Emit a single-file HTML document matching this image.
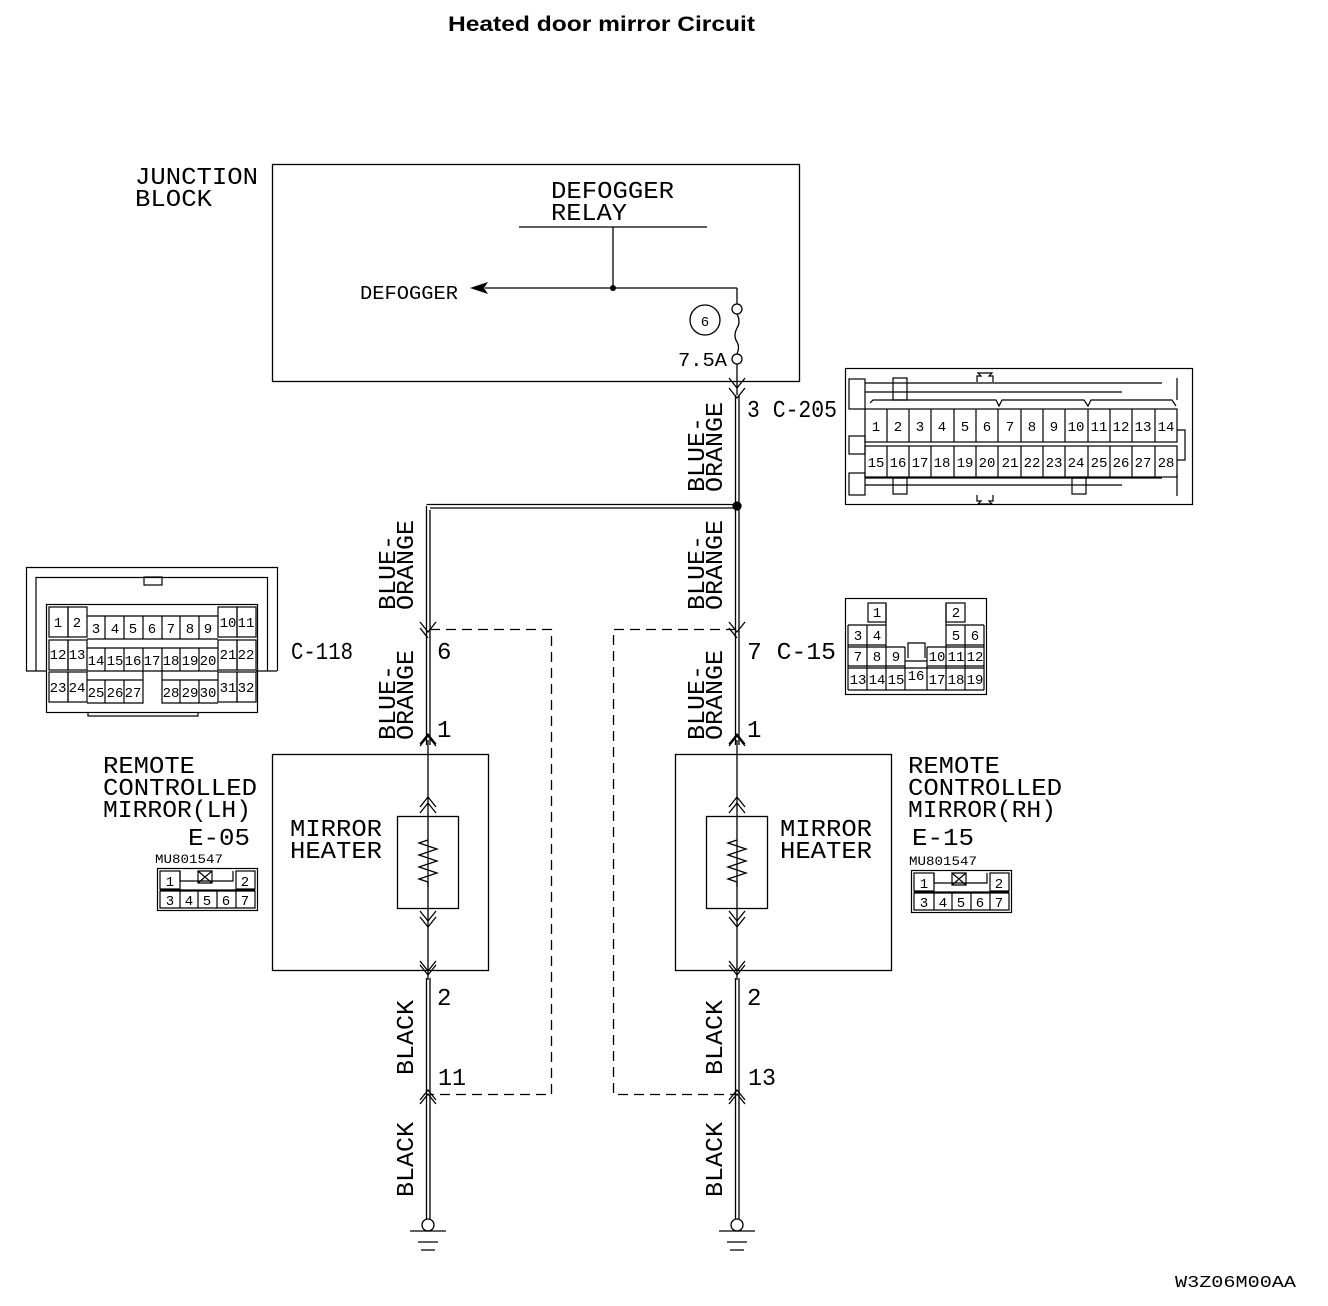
<!DOCTYPE html>
<html><head><meta charset="utf-8"><style>
html,body{margin:0;padding:0;background:#fff}
svg{display:block}
text{font-family:"Liberation Mono",monospace;fill:#000}
.t{font-size:24px}
.s{font-size:14px}
.m{font-size:19px}
</style></head><body>
<svg width="1328" height="1306" viewBox="0 0 1328 1306" xmlns="http://www.w3.org/2000/svg">
<g fill="none" stroke="#000" stroke-width="1.3">
<!-- junction block -->
<rect x="272.5" y="164.5" width="527" height="217"/>
<line x1="519" y1="227" x2="707" y2="227"/>
<line x1="613" y1="227" x2="613" y2="288"/>
<line x1="485" y1="288" x2="737" y2="288"/>
<line x1="737" y1="288" x2="737" y2="304"/>
<circle cx="737" cy="309" r="5"/>
<path d="M737 314 q4 8 0 14 q-4 8 0 14 q3 5 0 12"/>
<circle cx="737" cy="359" r="5"/>
<circle cx="705" cy="320" r="15"/>
<line x1="737" y1="364" x2="737" y2="395"/>
<path d="M729 378 l8 10 l8 -10 M729 388 l8 10 l8 -10"/>
<!-- double wires -->
<line x1="735.5" y1="395" x2="735.5" y2="745"/>
<line x1="739" y1="395" x2="739" y2="745"/>
<line x1="735.5" y1="978" x2="735.5" y2="1220"/>
<line x1="739" y1="978" x2="739" y2="1220"/>
<line x1="426.5" y1="506" x2="426.5" y2="745"/>
<line x1="430" y1="510" x2="430" y2="745"/>
<line x1="426.5" y1="978" x2="426.5" y2="1220"/>
<line x1="430" y1="978" x2="430" y2="1220"/>
<line x1="426.5" y1="504.5" x2="737" y2="504.5"/>
<line x1="430" y1="508" x2="737" y2="508"/>
<!-- dashed boxes -->
<path d="M430 629.5 H551.5 V1094.5 H430" stroke-dasharray="10,6"/>
<path d="M736 629.5 H613.5 V1094.5 H736" stroke-dasharray="10,6"/>
<!-- mirror boxes -->
<rect x="272.5" y="754.5" width="216" height="216"/>
<rect x="675.5" y="754.5" width="216" height="216"/>
<rect x="397.5" y="816.5" width="61" height="92"/>
<rect x="706.5" y="816.5" width="61" height="92"/>
<line x1="428" y1="740" x2="428" y2="980"/>
<line x1="737" y1="740" x2="737" y2="980"/>
<path d="M428 840 l-9 3 l18 6 l-18 6 l18 6 l-18 6 l18 6 l-18 6 l9 3 v5"/>
<path d="M737 840 l-9 3 l18 6 l-18 6 l18 6 l-18 6 l18 6 l-18 6 l9 3 v5"/>
<!-- chevrons -->
<g id="chev">
<path d="M420 622 l8 10 l8 -10 M420 628 l8 10"/>
<path d="M420 746 l8 -10 l8 10 M420 744 l8 -10 l8 10"/>
<path d="M420 807 l8 -10 l8 10 M420 813 l8 -10 l8 10"/>
<path d="M420 911 l8 10 l8 -10 M420 917 l8 10 l8 -10"/>
<path d="M420 961 l8 10 l8 -10 M420 965 l8 10 l8 -10"/>
<path d="M420 1100 l8 -10 l8 10 M420 1104 l8 -10 l8 10"/>
</g>
<use href="#chev" x="309"/>
<circle cx="737" cy="506" r="4" fill="#000"/>
<!-- grounds -->
<circle cx="428" cy="1225" r="6" fill="#fff"/>
<path d="M410 1231 H446 M418 1242 H438 M421 1250 H435"/>
<circle cx="737" cy="1225" r="6" fill="#fff"/>
<path d="M719 1231 H755 M727 1242 H747 M730 1250 H744"/>
</g>
<circle cx="613" cy="288" r="3"/>
<path d="M470 288 l18 -6 l-4 6 l4 6z" fill="#000"/>

<!-- C-205 -->
<g fill="none" stroke="#000" stroke-width="1.2">
<rect x="845.5" y="368.5" width="347" height="136"/>
<rect x="849" y="379" width="16" height="30"/><rect x="849" y="436" width="16" height="18"/><rect x="849" y="473" width="16" height="22"/>
<rect x="893" y="378" width="14" height="22"/><rect x="893" y="478" width="14" height="16"/><rect x="1072" y="478" width="14" height="16"/>
<path d="M865 383 H1162 M865 392 H1122 M865 478 H1162 M865 485 H1122 M870 403 l3 -3 H996 l3 6 l3 -6 H1084 l4 6 l3 -6 H1172 l4 6"/>
<path d="M977 382 v-6 h4 l-3 -3 h14 l-3 3 h4 v6 M977 495 v6 h4 l-3 3 h14 l-3 -3 h4 v-6"/>
<path d="M1177 378 v22 M1177 474 v22 M1177 430 h8 v30 h-8"/>
<rect x="865" y="409" width="312" height="33"/>
<rect x="865" y="446" width="312" height="31"/>
<path d="M887 409v33M909 409v33M931 409v33M954 409v33M976 409v33M998 409v33M1021 409v33M1043 409v33M1065 409v33M1088 409v33M1110 409v33M1132 409v33M1155 409v33"/>
<path d="M887 446v31M909 446v31M931 446v31M954 446v31M976 446v31M998 446v31M1021 446v31M1043 446v31M1065 446v31M1088 446v31M1110 446v31M1132 446v31M1155 446v31"/>
</g>
<g class="s" text-anchor="middle">
<text x="876" y="431">1</text><text x="898" y="431">2</text><text x="920" y="431">3</text><text x="942" y="431">4</text><text x="965" y="431">5</text><text x="987" y="431">6</text><text x="1010" y="431">7</text><text x="1032" y="431">8</text><text x="1054" y="431">9</text><text x="1076" y="431">10</text><text x="1099" y="431">11</text><text x="1121" y="431">12</text><text x="1143" y="431">13</text><text x="1166" y="431">14</text>
<text x="876" y="467">15</text><text x="898" y="467">16</text><text x="920" y="467">17</text><text x="942" y="467">18</text><text x="965" y="467">19</text><text x="987" y="467">20</text><text x="1010" y="467">21</text><text x="1032" y="467">22</text><text x="1054" y="467">23</text><text x="1076" y="467">24</text><text x="1099" y="467">25</text><text x="1121" y="467">26</text><text x="1143" y="467">27</text><text x="1166" y="467">28</text>
</g>

<!-- C-118 -->
<g fill="none" stroke="#000" stroke-width="1.2">
<path d="M26.5 671 V567.5 H277.5 V671 M256 671 H277 M26 671 H47 M36 671 V577.5 H267.5 V671"/>
<rect x="144" y="577" width="18" height="8"/>
<rect x="46.5" y="604.5" width="211" height="108"/>
<path d="M88 713 v3 h110 v-3"/>
<rect x="49" y="607" width="19" height="30"/><rect x="68" y="607" width="19" height="30"/>
<rect x="218" y="607" width="19" height="30"/><rect x="237" y="607" width="19" height="30"/>
<rect x="49" y="640" width="19" height="30"/><rect x="68" y="640" width="19" height="30"/>
<rect x="218" y="640" width="19" height="30"/><rect x="237" y="640" width="19" height="30"/>
<rect x="49" y="672" width="19" height="30"/><rect x="68" y="672" width="19" height="30"/>
<rect x="218" y="672" width="19" height="30"/><rect x="237" y="672" width="19" height="30"/>
<path d="M87 616 H218 M87 639 H218 M87 648 H218 M87 671 H218 M87 680 H143 M87 703 H143 V671 M162 671 V703 H218 M162 680 H218"/>
<path d="M105 616v23M124 616v23M143 616v23M162 616v23M180 616v23M199 616v23"/>
<path d="M105 648v23M124 648v23M143 648v23M162 648v23M180 648v23M199 648v23"/>
<path d="M105 680v23M124 680v23M180 680v23M199 680v23"/>
</g>
<g class="s" text-anchor="middle">
<text x="58" y="627">1</text><text x="77" y="627">2</text><text x="96" y="633">3</text><text x="115" y="633">4</text><text x="133" y="633">5</text><text x="152" y="633">6</text><text x="171" y="633">7</text><text x="190" y="633">8</text><text x="208" y="633">9</text><text x="228" y="627">10</text><text x="246" y="627">11</text>
<text x="58" y="659">12</text><text x="77" y="659">13</text><text x="96" y="665">14</text><text x="115" y="665">15</text><text x="133" y="665">16</text><text x="152" y="665">17</text><text x="171" y="665">18</text><text x="190" y="665">19</text><text x="208" y="665">20</text><text x="228" y="659">21</text><text x="246" y="659">22</text>
<text x="58" y="692">23</text><text x="77" y="692">24</text><text x="96" y="697">25</text><text x="115" y="697">26</text><text x="133" y="697">27</text><text x="171" y="697">28</text><text x="190" y="697">29</text><text x="208" y="697">30</text><text x="228" y="692">31</text><text x="246" y="692">32</text>
</g>

<!-- C-15 -->
<g fill="none" stroke="#000" stroke-width="1.2">
<rect x="845.5" y="598.5" width="141" height="96"/>
<rect x="868" y="603" width="18" height="19"/><rect x="946" y="603" width="19" height="19"/>
<path d="M848 625 H886 M946 625 H984 M848 645 H886 M946 645 H984 M848 647 H905 M927 647 H984 M848 666 H905 M927 666 H984 M848 668 H984 M848 690 H984"/>
<path d="M848 625V690M867 625V690M886 603V690M905 647V690M927 647V690M946 603V690M965 625V690M984 625V690"/>
<path d="M905 661 H927 M908 658 V643 H925 V658"/>
</g>
<g class="s" text-anchor="middle">
<text x="877" y="617">1</text><text x="956" y="617">2</text>
<text x="858" y="640">3</text><text x="877" y="640">4</text><text x="956" y="640">5</text><text x="975" y="640">6</text>
<text x="858" y="661">7</text><text x="877" y="661">8</text><text x="896" y="661">9</text><text x="937" y="661">10</text><text x="956" y="661">11</text><text x="975" y="661">12</text>
<text x="858" y="684">13</text><text x="877" y="684">14</text><text x="896" y="684">15</text><text x="916" y="680">16</text><text x="937" y="684">17</text><text x="956" y="684">18</text><text x="975" y="684">19</text>
</g>

<!-- small mirror connectors -->
<g fill="none" stroke="#000" stroke-width="1.2">
<rect x="157.5" y="868.5" width="100" height="42"/>
<rect x="160" y="871" width="20" height="18"/><rect x="236" y="871" width="19" height="18"/>
<path d="M180 871 v10 H233 V871 M198 871 h14 v12 h-14z M198 871 l14 12 M212 871 l-14 12 M160 890 H255 M160 891 H255 V908 H160z M180 891v17M198 891v17M217 891v17M236 891v17"/>
<rect x="911.5" y="870.5" width="100" height="42"/>
<rect x="914" y="873" width="20" height="18"/><rect x="990" y="873" width="19" height="18"/>
<path d="M934 873 v10 H987 V873 M952 873 h14 v12 h-14z M952 873 l14 12 M966 873 l-14 12 M914 892 H1009 M914 893 H1009 V910 H914z M934 893v17M952 893v17M971 893v17M990 893v17"/>
</g>
<g class="s" text-anchor="middle">
<text x="170" y="886">1</text><text x="245" y="886">2</text><text x="170" y="905">3</text><text x="189" y="905">4</text><text x="207" y="905">5</text><text x="226" y="905">6</text><text x="245" y="905">7</text>
<text x="924" y="888">1</text><text x="999" y="888">2</text><text x="924" y="907">3</text><text x="943" y="907">4</text><text x="961" y="907">5</text><text x="980" y="907">6</text><text x="999" y="907">7</text>
</g>
<text x="155" y="863" font-size="13" textLength="68" lengthAdjust="spacingAndGlyphs">MU801547</text>
<text x="909" y="865" font-size="13" textLength="68" lengthAdjust="spacingAndGlyphs">MU801547</text>

<!-- text -->
<text x="448" y="31" style="font-family:'Liberation Sans',sans-serif;font-weight:bold;font-size:21px" textLength="307" lengthAdjust="spacingAndGlyphs">Heated door mirror Circuit</text>
<text class="t" x="135" y="184" textLength="123" lengthAdjust="spacingAndGlyphs">JUNCTION</text>
<text class="t" x="135" y="206" textLength="77" lengthAdjust="spacingAndGlyphs">BLOCK</text>
<text class="t" x="551" y="198" textLength="123" lengthAdjust="spacingAndGlyphs">DEFOGGER</text>
<text class="t" x="551" y="220" textLength="76" lengthAdjust="spacingAndGlyphs">RELAY</text>
<text class="m" x="360" y="299" textLength="98" lengthAdjust="spacingAndGlyphs">DEFOGGER</text>
<text x="705" y="326" font-size="14" text-anchor="middle">6</text>
<text class="m" x="678" y="366" textLength="49" lengthAdjust="spacingAndGlyphs">7.5A</text>
<text class="t" x="747" y="417" textLength="90" lengthAdjust="spacingAndGlyphs">3 C-205</text>
<text class="t" x="291" y="659" textLength="62" lengthAdjust="spacingAndGlyphs">C-118</text>
<text class="t" x="437" y="659">6</text>
<text class="t" x="747" y="659" textLength="89" lengthAdjust="spacingAndGlyphs">7 C-15</text>
<text class="t" x="437" y="737">1</text>
<text class="t" x="747" y="737">1</text>
<text class="t" x="437" y="1005">2</text>
<text class="t" x="747" y="1005">2</text>
<text class="t" x="438" y="1085" textLength="28" lengthAdjust="spacingAndGlyphs">11</text>
<text class="t" x="748" y="1085" textLength="28" lengthAdjust="spacingAndGlyphs">13</text>
<text class="t" x="103" y="773" textLength="92" lengthAdjust="spacingAndGlyphs">REMOTE</text>
<text class="t" x="103" y="795" textLength="154" lengthAdjust="spacingAndGlyphs">CONTROLLED</text>
<text class="t" x="103" y="817" textLength="148" lengthAdjust="spacingAndGlyphs">MIRROR(LH)</text>
<text class="t" x="188" y="845" textLength="62" lengthAdjust="spacingAndGlyphs">E-05</text>
<text class="t" x="908" y="773" textLength="92" lengthAdjust="spacingAndGlyphs">REMOTE</text>
<text class="t" x="908" y="795" textLength="154" lengthAdjust="spacingAndGlyphs">CONTROLLED</text>
<text class="t" x="908" y="817" textLength="148" lengthAdjust="spacingAndGlyphs">MIRROR(RH)</text>
<text class="t" x="912" y="845" textLength="62" lengthAdjust="spacingAndGlyphs">E-15</text>
<text class="t" x="290" y="836" textLength="92" lengthAdjust="spacingAndGlyphs">MIRROR</text>
<text class="t" x="290" y="858" textLength="92" lengthAdjust="spacingAndGlyphs">HEATER</text>
<text class="t" x="780" y="836" textLength="92" lengthAdjust="spacingAndGlyphs">MIRROR</text>
<text class="t" x="780" y="858" textLength="92" lengthAdjust="spacingAndGlyphs">HEATER</text>
<text x="1175" y="1287" font-size="17" textLength="121" lengthAdjust="spacingAndGlyphs">W3Z06M00AA</text>

<!-- vertical wire labels -->
<g class="t">
<text transform="translate(395,610) rotate(-90)" textLength="75" lengthAdjust="spacingAndGlyphs">BLUE-</text>
<text transform="translate(413,610) rotate(-90)" textLength="90" lengthAdjust="spacingAndGlyphs">ORANGE</text>
<text transform="translate(395,740) rotate(-90)" textLength="75" lengthAdjust="spacingAndGlyphs">BLUE-</text>
<text transform="translate(413,740) rotate(-90)" textLength="90" lengthAdjust="spacingAndGlyphs">ORANGE</text>
<text transform="translate(704,492) rotate(-90)" textLength="75" lengthAdjust="spacingAndGlyphs">BLUE-</text>
<text transform="translate(722,492) rotate(-90)" textLength="90" lengthAdjust="spacingAndGlyphs">ORANGE</text>
<text transform="translate(704,610) rotate(-90)" textLength="75" lengthAdjust="spacingAndGlyphs">BLUE-</text>
<text transform="translate(722,610) rotate(-90)" textLength="90" lengthAdjust="spacingAndGlyphs">ORANGE</text>
<text transform="translate(704,740) rotate(-90)" textLength="75" lengthAdjust="spacingAndGlyphs">BLUE-</text>
<text transform="translate(722,740) rotate(-90)" textLength="90" lengthAdjust="spacingAndGlyphs">ORANGE</text>
<text transform="translate(413,1075) rotate(-90)" textLength="75" lengthAdjust="spacingAndGlyphs">BLACK</text>
<text transform="translate(413,1197) rotate(-90)" textLength="75" lengthAdjust="spacingAndGlyphs">BLACK</text>
<text transform="translate(722,1075) rotate(-90)" textLength="75" lengthAdjust="spacingAndGlyphs">BLACK</text>
<text transform="translate(722,1197) rotate(-90)" textLength="75" lengthAdjust="spacingAndGlyphs">BLACK</text>
</g>
</svg>
</body></html>
